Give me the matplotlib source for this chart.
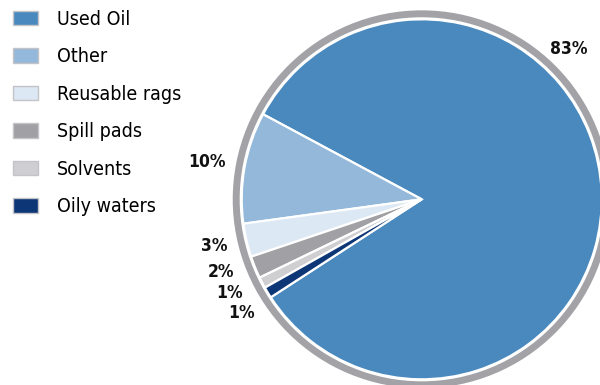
import matplotlib
matplotlib.use("Agg")
import matplotlib.pyplot as plt
from matplotlib import font_manager
from matplotlib.patches import Circle

# waste stream shares (%)
categories = ["Used Oil", "Other", "Reusable rags", "Spill pads", "Solvents", "Oily waters"]
shares = [83, 10, 3, 2, 1, 1]
colors = ["#4a89be", "#93b8da", "#dce8f3", "#a0a0a5", "#cfcfd2", "#0d3676"]

# where each percentage label sits (pixels, origin bottom-left)
label_pos = [(569, 336), (207, 223), (214, 139), (221, 113), (230, 92), (242, 72)]

# prefer a narrow face, fall back to any condensed one
names = {f.name for f in font_manager.fontManager.ttflist}
family, stretch = "DejaVu Sans", "normal"
if "Liberation Sans Narrow" in names:
    family = "Liberation Sans Narrow"
else:
    for f in font_manager.fontManager.ttflist:
        if f.stretch in ("condensed", "semi-condensed"):
            family, stretch = f.name, f.stretch
            break
plt.rcParams["font.family"] = [family, "DejaVu Sans"]
plt.rcParams["font.stretch"] = stretch

fig = plt.figure(figsize=(6.0, 3.85), dpi=100)
ax = fig.add_axes([0, 0, 1, 1])

cx, cy = 421.7, 185.7

# grey outer ring
ring = Circle((cx, cy), 185.5, facecolor="none", edgecolor="#a3a3a7", linewidth=5.0, zorder=1)
ax.add_patch(ring)

wedges, _ = ax.pie(shares, colors=colors, startangle=213, counterclock=True,
                   center=(cx, cy), radius=180, frame=True,
                   wedgeprops=dict(edgecolor="white", linewidth=1.6))
ax.set_xlim(0, 600)
ax.set_ylim(0, 385)
ax.set_aspect("equal")
ax.axis("off")

for (x, y), v in zip(label_pos, shares):
    ax.text(x, y, f"{v}%", ha="center", va="center", fontsize=12.5, fontweight="bold",
            color="#111111")

leg = ax.legend(wedges, categories, loc="upper left", bbox_to_anchor=(0.008, 0.995),
                frameon=False, fontsize=14, handlelength=1.3, handleheight=0.77,
                handletextpad=1.0, labelspacing=0.95, borderaxespad=0)
for h in leg.legend_handles:
    h.set_edgecolor("#c4c4c8")
    h.set_linewidth(1.0)

fig.savefig("out.png", dpi=100)
